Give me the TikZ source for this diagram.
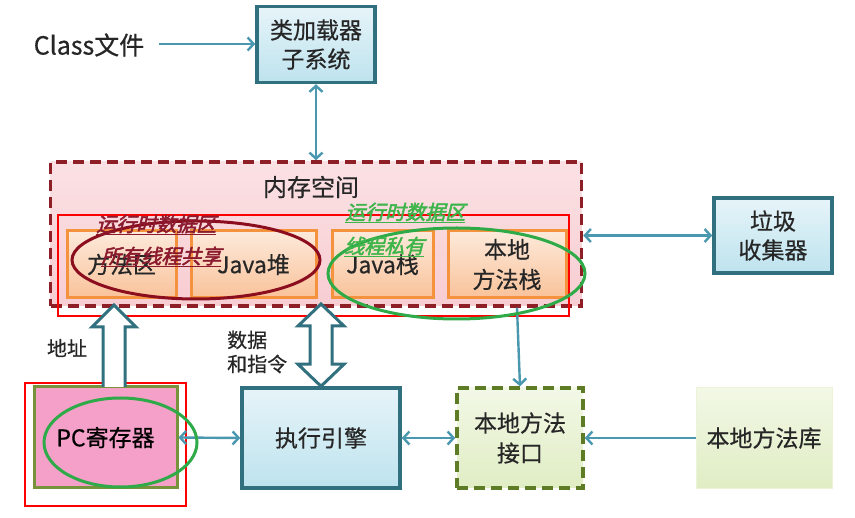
\documentclass[tikz,border=0pt]{standalone}
\usepackage{fontspec}
\setmainfont{Noto Sans CJK SC}[FakeBold=0.5]
\newfontfamily\notefont{Noto Sans CJK SC}[FakeSlant=0.25,FakeBold=2.4]
\usetikzlibrary{arrows.meta,calc}

\definecolor{txt}{HTML}{262626}
\definecolor{bordteal}{HTML}{31717F}
\definecolor{boxtop}{HTML}{E6F4F9}
\definecolor{boxbot}{HTML}{BEE3EE}
\definecolor{conncol}{HTML}{4A98AF}
\definecolor{memred}{HTML}{8E1F27}
\definecolor{memtop}{HTML}{FBE1E4}
\definecolor{membot}{HTML}{F7CDD2}
\definecolor{orng}{HTML}{F5923E}
\definecolor{orngtop}{HTML}{FDEADB}
\definecolor{orngbot}{HTML}{F9C29A}
\definecolor{pcpink}{HTML}{F4A0C8}
\definecolor{pcgreen}{HTML}{76933C}
\definecolor{olive}{HTML}{5E7B25}
\definecolor{greentop}{HTML}{F2F8E6}
\definecolor{greenbot}{HTML}{E0EDC4}
\definecolor{ellred}{HTML}{8B0D1E}
\definecolor{ellgreen}{HTML}{2EAA48}
\definecolor{labred}{HTML}{8B1A2E}
\definecolor{labgreen}{HTML}{3DB54A}
\definecolor{pureRed}{HTML}{FF0000}

\tikzset{
  tealbox/.style={draw=bordteal, line width=3.5pt, top color=boxtop, bottom color=boxbot,
    text=txt, align=center, inner sep=0pt, font=\fontsize{23}{29}\selectfont},
  membox/.style={draw=memred, line width=3.5pt, dash pattern=on 11pt off 6pt,
    top color=memtop, bottom color=membot, inner sep=0pt},
  areabox/.style={draw=orng, line width=3pt, top color=orngtop, bottom color=orngbot,
    text=txt, align=center, inner sep=0pt, font=\fontsize{23}{30}\selectfont},
  redframe/.style={draw=pureRed, line width=2pt, inner sep=0pt},
  conn/.style={draw=conncol, line width=2.4pt, >={Straight Barb[length=6pt,width=13pt]}},
  hollow/.style={draw=bordteal, line width=3pt, fill=white, line join=miter},
  note/.style={font=\notefont\fontsize{20}{22}\selectfont, inner sep=0pt},
  plain/.style={text=txt, inner sep=0pt, align=left},
}

\begin{document}
\begin{tikzpicture}[x=1pt,y=-1pt]
\useasboundingbox (0,0) rectangle (855,518);
\fill[white] (0,0) rectangle (855,518);

% class loader
\node[plain, font=\fontsize{25}{28}\selectfont] (cls) at (89,45) {Class文件};
\node[tealbox, minimum width=118pt, minimum height=76pt] (loader) at (316,44.5) {类加载器\\子系统};

% memory space with the runtime data areas
\node[membox, minimum width=531pt, minimum height=144pt] (mem) at (316,234) {};
\node[plain, font=\fontsize{24}{28}\selectfont] (memtitle) at (311,187) {内存空间};
\node[areabox, minimum width=109pt, minimum height=67pt] (method) at (121.5,264.5) {方法区};
\node[areabox, minimum width=125pt, minimum height=67pt] (heap) at (253.5,264.5) {Java堆};
\node[areabox, minimum width=101pt, minimum height=67pt] (jstack) at (382.5,264.5) {Java栈};
\node[areabox, minimum width=118pt, minimum height=67pt] (nstack) at (507,264.5) {本地\\方法栈};
\node[redframe, minimum width=511pt, minimum height=101pt] (rda) at (313.5,265.5) {};

% garbage collector
\node[tealbox, minimum width=118pt, minimum height=75pt] (gc) at (773,235.5) {垃圾\\收集器};

% lower row
\node[redframe, minimum width=161pt, minimum height=123pt] (pcframe) at (105.5,444.5) {};
\node[draw=pcgreen, line width=3pt, fill=pcpink, minimum width=143pt, minimum height=101pt,
      inner sep=0pt, text=black, font=\fontsize{23}{28}\selectfont] (pc) at (105.5,437.5) {PC寄存器};
\node[tealbox, minimum width=158pt, minimum height=100pt] (exec) at (321,438) {执行引擎};
\node[draw=olive, line width=3.5pt, dash pattern=on 11pt off 6pt, top color=greentop,
      bottom color=greenbot, minimum width=126pt, minimum height=100pt, inner sep=0pt,
      text=txt, align=center, font=\fontsize{23}{30}\selectfont] (jni) at (520,438) {本地方法\\接口};
\node[draw=greentop!60!greenbot, line width=1pt, top color=greentop, bottom color=greenbot,
      minimum width=136pt, minimum height=101pt, inner sep=0pt, text=txt,
      font=\fontsize{23}{28}\selectfont] (lib) at (764,438) {本地方法库};

% side labels
\node[plain, font=\fontsize{20}{23}\selectfont] (addr) at (67,348) {地址};
\node[plain, anchor=west, font=\fontsize{20}{24}\selectfont] (data) at (227,352) {数据\\和指令};

% helper points for connector ends
\coordinate (clsout) at (159,44);
\coordinate (nsx) at (517,0);
\coordinate (dtopy) at (0,304);

% thin connectors
\draw[conn,->] (clsout) -- (clsout -| loader.west);
\draw[conn,<->] (loader.south) -- (mem.north -| loader.south);
\draw[conn,<->] (mem.east |- gc.west) -- (gc.west);
\draw[conn,<->] (pc.east) -- (exec.west);
\draw[conn,<->] (exec.east) -- (jni.west);
\draw[conn,->] (mem.south -| nsx) -- (jni.north);
\draw[conn,->] (lib.west) -- (jni.east);

% address arrow (PC register -> data areas)
\coordinate (abase) at (114,387);
\coordinate (atip) at (114,305);
\draw[hollow] ($(abase)+(-11,0)$) -- ($(atip)+(-11,22)$) -- ($(atip)+(-22,22)$) -- (atip)
  -- ($(atip)+(22,22)$) -- ($(atip)+(11,22)$) -- ($(abase)+(11,0)$);

% data and instruction arrow (data areas <-> execution engine)
\coordinate (dbot) at (exec.north);
\coordinate (dtop) at (exec.north |- dtopy);
\draw[hollow] (dtop) -- ($(dtop)+(23,22)$) -- ($(dtop)+(11,22)$) -- ($(dbot)+(11,-22)$)
  -- ($(dbot)+(23,-22)$) -- (dbot) -- ($(dbot)+(-23,-22)$) -- ($(dbot)+(-11,-22)$)
  -- ($(dtop)+(-11,22)$) -- ($(dtop)+(-23,22)$) -- cycle;

% annotation ellipses
\draw[ellred, line width=3pt] (196,260) ellipse [x radius=124, y radius=39];
\draw[ellgreen, line width=3pt] (456.5,273.5) ellipse [x radius=128.5, y radius=45.5];
\draw[ellgreen, line width=3pt] (120.5,442.5) ellipse [x radius=76.5, y radius=44.5];

% annotation notes
\node[note, text=labred, anchor=west] (sharedA) at (96,225) {\underline{运行时数据区}};
\node[note, text=labred, anchor=west] (sharedB) at (101,257) {\underline{所有线程共享}};
\node[note, text=labgreen, anchor=west] (privA) at (345,213) {\underline{运行时数据区}};
\node[note, text=labgreen, anchor=west] (privB) at (344,247) {\underline{线程私有}};
\end{tikzpicture}
\end{document}
